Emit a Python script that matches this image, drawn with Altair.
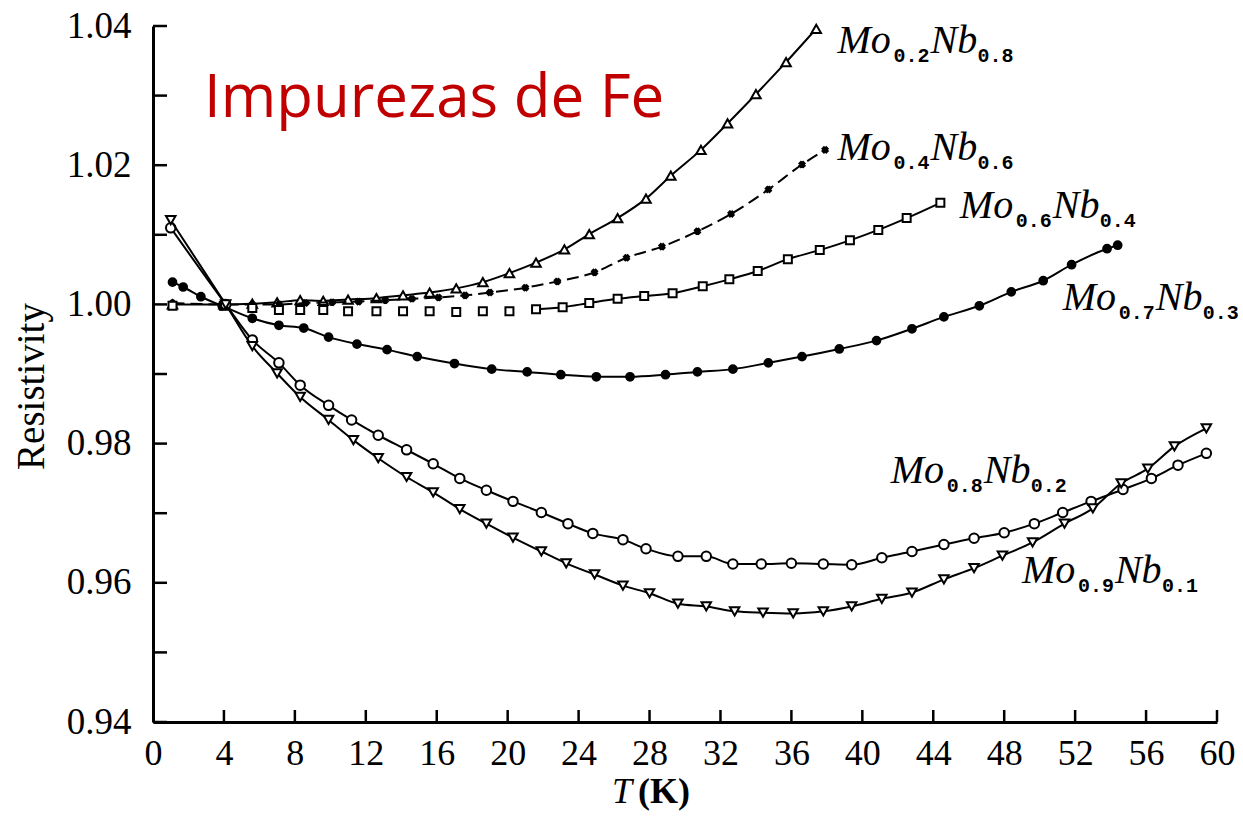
import altair as alt
import pandas as pd

W, H = 1064, 696

# Resistivity (normalised) vs temperature for Mo-Nb alloys with Fe impurities
t_mo2 = [1.1, 4.0, 5.6, 7.0, 8.3, 9.6, 11.0, 12.6, 14.1, 15.6, 17.1, 18.6, 20.1, 21.6,
         23.2, 24.6, 26.2, 27.8, 29.2, 30.9, 32.4, 34.0, 35.7, 37.4]
r_mo2 = [1.0000, 1.0000, 1.0001, 1.0003, 1.0006, 1.0005, 1.0007, 1.0009, 1.0013, 1.0017,
         1.0023, 1.0032, 1.0045, 1.0060, 1.0079, 1.0101, 1.0124, 1.0152, 1.0185, 1.0222,
         1.0260, 1.0302, 1.0348, 1.0396]

t_mo4 = [1.1, 4.0, 5.6, 7.1, 8.6, 10.1, 11.6, 13.1, 14.6, 16.1, 17.6, 19.0, 21.0, 22.8,
         24.9, 26.7, 28.7, 30.7, 32.6, 34.7, 36.6, 37.9]
r_mo4 = [1.0002, 1.0000, 1.0000, 1.0000, 1.0002, 1.0003, 1.0004, 1.0006, 1.0008, 1.0010,
         1.0013, 1.0017, 1.0024, 1.0033, 1.0046, 1.0067, 1.0083, 1.0105, 1.0130, 1.0165,
         1.0201, 1.0222]

t_mo6 = [1.1, 4.0, 5.6, 7.1, 8.3, 9.6, 11.0, 12.6, 14.1, 15.6, 17.1, 18.6, 20.1, 21.6,
         23.1, 24.6, 26.2, 27.7, 29.3, 31.0, 32.5, 34.1, 35.8, 37.6, 39.3, 40.9, 42.5, 44.4]
r_mo6 = [0.9998, 0.9998, 0.9995, 0.9992, 0.9992, 0.9992, 0.9990, 0.9990, 0.9990, 0.9990,
         0.9989, 0.9990, 0.9990, 0.9993, 0.9996, 1.0002, 1.0008, 1.0012, 1.0016, 1.0026,
         1.0036, 1.0048, 1.0065, 1.0078, 1.0092, 1.0107, 1.0124, 1.0146]

t_mo7 = [1.1, 1.7, 2.7, 3.9, 5.6, 7.1, 8.5, 9.9, 11.5, 13.2, 14.9, 17.0, 19.1, 21.1, 23.0,
         25.0, 26.9, 28.9, 30.7, 32.7, 34.7, 36.6, 38.7, 40.8, 42.8, 44.6, 46.6, 48.4,
         50.2, 51.8, 53.8, 54.4]
r_mo7 = [1.0032, 1.0025, 1.0011, 0.9998, 0.9980, 0.9970, 0.9966, 0.9953, 0.9943, 0.9935,
         0.9925, 0.9915, 0.9907, 0.9903, 0.9899, 0.9896, 0.9896, 0.9899, 0.9903, 0.9907,
         0.9916, 0.9925, 0.9936, 0.9948, 0.9965, 0.9982, 0.9998, 1.0018, 1.0034, 1.0057,
         1.0080, 1.0085]

t_mo8 = [1.0, 4.1, 5.6, 7.1, 8.3, 9.9, 11.2, 12.7, 14.3, 15.8, 17.3, 18.8, 20.3, 21.9, 23.4,
         24.8, 26.5, 27.8, 29.6, 31.2, 32.7, 34.3, 36.0, 37.8, 39.4, 41.1, 42.8, 44.6,
         46.3, 48.0, 49.7, 51.3, 52.9, 54.7, 56.3, 57.8, 59.4]
r_mo8 = [1.0110, 1.0000, 0.9949, 0.9916, 0.9884, 0.9855, 0.9834, 0.9812, 0.9791, 0.9771,
         0.9750, 0.9733, 0.9717, 0.9701, 0.9685, 0.9671, 0.9662, 0.9649, 0.9638, 0.9638,
         0.9627, 0.9627, 0.9628, 0.9627, 0.9626, 0.9636, 0.9645, 0.9655, 0.9664, 0.9672,
         0.9685, 0.9701, 0.9717, 0.9734, 0.9750, 0.9769, 0.9786]

t_mo9 = [1.0, 4.1, 5.6, 7.0, 8.3, 9.9, 11.3, 12.7, 14.3, 15.8, 17.3, 18.8, 20.3, 21.9, 23.3,
         24.9, 26.5, 28.0, 29.6, 31.2, 32.8, 34.4, 36.1, 37.8, 39.4, 41.1, 42.8, 44.6,
         46.3, 47.9, 49.6, 51.4, 53.0, 54.6, 56.1, 57.6, 59.4]
r_mo9 = [1.0121, 1.0000, 0.9940, 0.9901, 0.9867, 0.9834, 0.9805, 0.9779, 0.9752, 0.9730,
         0.9706, 0.9685, 0.9665, 0.9645, 0.9628, 0.9612, 0.9596, 0.9585, 0.9570, 0.9566,
         0.9559, 0.9557, 0.9556, 0.9559, 0.9566, 0.9577, 0.9586, 0.9605, 0.9621, 0.9639,
         0.9658, 0.9685, 0.9707, 0.9743, 0.9764, 0.9796, 0.9822]

# Curve labels: composition subscripts and the (T, rho) point where each label starts
lab_mo = ["0.2", "0.4", "0.6", "0.7", "0.8", "0.9"]
lab_nb = ["0.8", "0.6", "0.4", "0.3", "0.2", "0.1"]
lab_t = [38.6, 38.6, 45.5, 51.3, 41.6, 49.0]
lab_r = [1.0361, 1.0207, 1.0124, 0.9992, 0.9743, 0.9600]

x_ticks = list(range(0, 61, 4))
y_labels = [0.94, 0.96, 0.98, 1.00, 1.02, 1.04]
y_ticks = [0.94, 0.95, 0.96, 0.97, 0.98, 0.99, 1.00, 1.01, 1.02, 1.03, 1.04]

SERIF = "Liberation Serif"

x_enc = alt.X(
    "T:Q",
    scale=alt.Scale(domain=[0, 60], nice=False, zero=False),
    axis=alt.Axis(values=x_ticks, ticks=False, grid=False, domainColor="black",
                  domainWidth=3, labelFont=SERIF, labelFontSize=36, labelColor="black",
                  labelPadding=14, labelFlush=False, labelOverlap=False, title=None),
)
y_enc = alt.Y(
    "rho:Q",
    scale=alt.Scale(domain=[0.94, 1.04], nice=False, zero=False),
    axis=alt.Axis(values=y_labels, format=".2f", ticks=False, grid=False,
                  domainColor="black", domainWidth=3, labelFont=SERIF, labelFontSize=37,
                  labelColor="black", labelPadding=22, labelFlush=False,
                  labelOverlap=False, title="Resistivity", titleFont=SERIF,
                  titleFontSize=39, titleFontWeight="normal", titleColor="black",
                  titleAngle=-90, titleX=-110, titleY=360, titleAlign="center",
                  titleBaseline="alphabetic"),
)


def frame(ts, rs):
    return pd.DataFrame({"T": ts, "rho": rs})


layers = []

# Inward tick marks on both axes
layers.append(
    alt.Chart(pd.DataFrame({"rho": y_ticks})).mark_rule(color="black", strokeWidth=2.5)
    .encode(y=y_enc, x=alt.value(0), x2=alt.value(14))
)
layers.append(
    alt.Chart(pd.DataFrame({"T": x_ticks[1:]})).mark_rule(color="black", strokeWidth=2.5)
    .encode(x=x_enc, y=alt.value(H), y2=alt.value(H - 12))
)

series = [
    # (times, values, point style, dashed line, first T joined by the line)
    (t_mo2, r_mo2, dict(shape="triangle-up", size=90, fill="white"), None, 0),
    (t_mo4, r_mo4, dict(shape="cross", size=28, angle=45, fill="black"), [12, 6], 0),
    (t_mo6, r_mo6, dict(shape="square", size=64, fill="white"), None, 21.5),
    (t_mo7, r_mo7, dict(shape="circle", size=60, fill="black"), None, 0),
    (t_mo8, r_mo8, dict(shape="circle", size=90, fill="white"), None, 0),
    (t_mo9, r_mo9, dict(shape="triangle-down", size=90, fill="white"), None, 0),
]

for ts, rs, pstyle, dash, t_from in series:
    df = frame(ts, rs)
    line_kw = dict(color="black", strokeWidth=2, interpolate="monotone")
    if dash:
        line_kw["strokeDash"] = dash
    line = alt.Chart(df).mark_line(**line_kw).encode(x=x_enc, y=y_enc, order="T:Q")
    if t_from:
        line = line.transform_filter(alt.datum.T >= t_from)
    layers.append(line)
    pkw = dict(pstyle)
    fill = pkw.pop("fill")
    layers.append(
        alt.Chart(df).mark_point(filled=True, fill=fill, stroke="black", strokeWidth=2,
                                 opacity=1, fillOpacity=1, **pkw)
        .encode(x=x_enc, y=y_enc)
    )

# Curve labels: Mo_x Nb_y with subscripts
labels = pd.DataFrame({"T": lab_t, "rho": lab_r, "mo": lab_mo, "nb": lab_nb})
base_lab = alt.Chart(labels)
main_font = dict(font=SERIF, fontStyle="italic", fontSize=40, align="left",
                 baseline="alphabetic", color="black")
sub_font = dict(font="Liberation Mono", fontSize=20, fontWeight="bold", align="left",
                baseline="alphabetic", color="black")
layers.append(base_lab.mark_text(**main_font).encode(x=x_enc, y=y_enc, text=alt.value("Mo")))
layers.append(base_lab.mark_text(dx=56, dy=9, **sub_font).encode(x=x_enc, y=y_enc, text="mo:N"))
layers.append(base_lab.mark_text(dx=93, **main_font).encode(x=x_enc, y=y_enc, text=alt.value("Nb")))
layers.append(base_lab.mark_text(dx=140, dy=9, **sub_font).encode(x=x_enc, y=y_enc, text="nb:N"))

# Heading inside the plot
layers.append(
    alt.Chart(pd.DataFrame({"t": ["Impurezas de Fe"]}))
    .mark_text(font="Open Sans", fontSize=60, color="#C00000", align="left", baseline="alphabetic")
    .encode(x=alt.value(51), y=alt.value(91), text="t:N")
)

# x-axis title: italic T and bold (K)
layers.append(
    alt.Chart(pd.DataFrame({"t": ["T"]}))
    .mark_text(font=SERIF, fontStyle="italic", fontSize=36, color="black", align="left",
               baseline="alphabetic")
    .encode(x=alt.value(459), y=alt.value(H + 81), text="t:N")
)
layers.append(
    alt.Chart(pd.DataFrame({"t": ["(K)"]}))
    .mark_text(font=SERIF, fontWeight="bold", fontSize=36, color="black", align="left",
               baseline="alphabetic")
    .encode(x=alt.value(485), y=alt.value(H + 81), text="t:N")
)

chart = (
    alt.layer(*layers)
    .properties(width=W, height=H, autosize=alt.AutoSizeParams(type="none"),
                padding={"left": 153, "top": 26, "right": 26, "bottom": 96},
                background="white")
    .configure_view(stroke=None)
)

chart.save("out.html", embed_options={"renderer": "svg", "actions": False})
